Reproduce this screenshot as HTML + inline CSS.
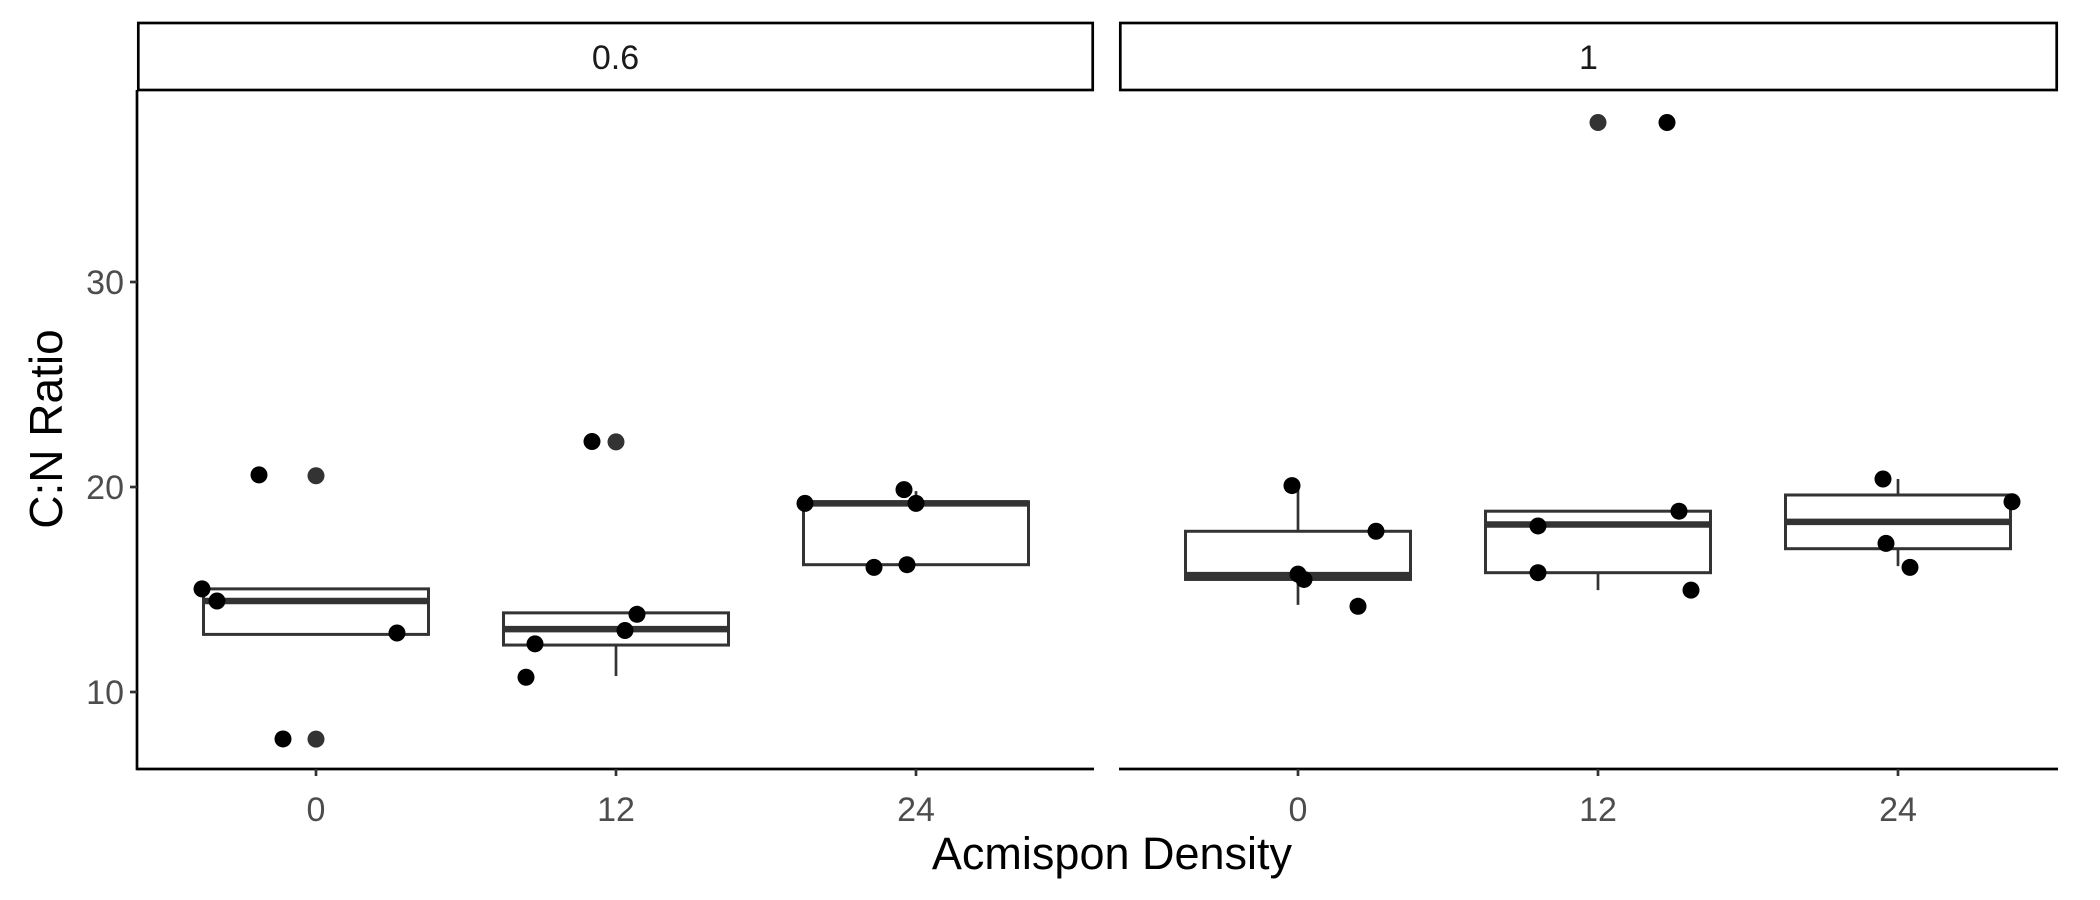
<!DOCTYPE html>
<html><head><meta charset="utf-8"><style>
html,body{margin:0;padding:0;background:#fff;}
svg{display:block;font-family:"Liberation Sans",Arial,sans-serif;}
</style></head><body>
<svg id="chart" width="2100" height="900" viewBox="0 0 2100 900" xmlns="http://www.w3.org/2000/svg">
<text x="0" y="0" transform="translate(62,429) rotate(-90)" text-anchor="middle" font-size="46" fill="#000">C:N Ratio</text>
<text x="1112" y="869" text-anchor="middle" font-size="45" fill="#000">Acmispon Density</text>
</svg>
<script>
const panels = ["0.6", "1"];
const categories = ["0", "12", "24"];
const yTicks = [10, 20, 30];
// box stats per panel per category: [lowerWhisker, q1, median, q3, upperWhisker]
const boxStats06 = [[12.81,12.81,14.44,15.03,15.03],[10.78,12.29,13.07,13.86,13.86],[16.21,16.21,19.2,19.28,19.8]];
const boxStats1 = [[14.25,15.49,15.7,17.84,20.26],[14.97,15.82,18.17,18.82,18.82],[16.14,16.99,18.3,19.61,20.39]];
// outliers: [categoryIndex, value]
const outliers06 = [[0,20.55],[0,7.7],[1,22.2]];
const outliers1 = [[1,37.78]];
// jittered points: [categoryIndex, jitterOffset, value]
const points06 = [[0,-0.38,15.03],[0,-0.33,14.44],[0,-0.19,20.59],[0,-0.11,7.71],[0,0.27,12.88],
  [1,-0.30,10.72],[1,-0.27,12.35],[1,-0.08,22.22],[1,0.03,13.0],[1,0.07,13.79],
  [2,-0.37,19.2],[2,-0.14,16.08],[2,-0.04,19.87],[2,-0.03,16.21],[2,0.0,19.2]];
const points1 = [[0,-0.02,20.07],[0,0.0,15.75],[0,0.02,15.49],[0,0.20,14.18],[0,0.26,17.84],
  [1,-0.20,18.1],[1,-0.20,15.82],[1,0.23,37.78],[1,0.27,18.82],[1,0.31,14.97],
  [2,-0.05,20.39],[2,-0.04,17.25],[2,0.04,16.08],[2,0.38,19.28]];

const NS = "http://www.w3.org/2000/svg";
const svg = document.getElementById('chart');
function mk(tag, attrs, parent){const e=document.createElementNS(NS,tag);for(const k in attrs)e.setAttribute(k,attrs[k]);(parent||svg).appendChild(e);return e;}
const yTop=90, yBot=769;
function y(v){return 692 - (v-10)*20.5;}
const panelLeft=[137,1119], panelRight=[1094,2058], catW=300;
function xc(p,i){return panelLeft[p] + 179 + i*catW;}

const allBox=[boxStats06,boxStats1], allOut=[outliers06,outliers1], allPts=[points06,points1];
panels.forEach((pn,p)=>{
  const g=mk('g',{});
  
  
  const L=panelLeft[p], R=panelRight[p];
  const strip=mk('rect',{x:L+1.3,y:23,width:R-L-2.6,height:67,fill:'#fff',stroke:'#000','stroke-width':2.7},g);
  
  
  const st=mk('text',{x:(L+R)/2,y:69,'text-anchor':'middle','font-size':34,fill:'#1a1a1a'},g);
  st.textContent=pn;
  
  
  const xa=mk('line',{x1:L,x2:R,y1:yBot,y2:yBot,stroke:'#000','stroke-width':2.7},g);
  
  
  if(p===0){
    const ya=mk('line',{x1:L,x2:L,y1:yTop,y2:yBot+1.3,stroke:'#000','stroke-width':2.7},g);
    
    
    yTicks.forEach(t=>{
      const tk=mk('line',{x1:L-7,x2:L,y1:y(t),y2:y(t),stroke:'#333','stroke-width':2.7},g);
      
      
      const tl=mk('text',{x:L-13,y:y(t)+12,'text-anchor':'end','font-size':34,fill:'#4d4d4d'},g);
      tl.textContent=t;
      
      
    });
  }
  categories.forEach((c,i)=>{
    const x=xc(p,i);
    const tk=mk('line',{x1:x,x2:x,y1:yBot,y2:yBot+7,stroke:'#333','stroke-width':2.7},g);
    
    
    const tl=mk('text',{x:x,y:821,'text-anchor':'middle','font-size':34,fill:'#4d4d4d'},g);
    tl.textContent=c;
    
    
    const s=allBox[p][i];
    const bg=mk('g',{},g);
    
    
    const hw=112.5;
    mk('line',{x1:x,x2:x,y1:y(s[3]),y2:y(s[4]),stroke:'#333','stroke-width':2.7},bg);
    mk('line',{x1:x,x2:x,y1:y(s[0]),y2:y(s[1]),stroke:'#333','stroke-width':2.7},bg);
    mk('rect',{x:x-hw,y:y(s[3]),width:2*hw,height:y(s[1])-y(s[3]),fill:'#fff',stroke:'#333','stroke-width':3},bg);
    mk('line',{x1:x-hw,x2:x+hw,y1:y(s[2]),y2:y(s[2]),stroke:'#333','stroke-width':6.5},bg);
  });
  allOut[p].forEach(o=>{
    const c=mk('circle',{cx:xc(p,o[0]),cy:y(o[1]),r:8.5,fill:'#333'},g);
    
    
  });
  allPts[p].forEach(pt=>{
    const c=mk('circle',{cx:xc(p,pt[0])+pt[1]*catW,cy:y(pt[2]),r:8.5,fill:'#000'},g);
    
    
  });
});
</script>
</body></html>
